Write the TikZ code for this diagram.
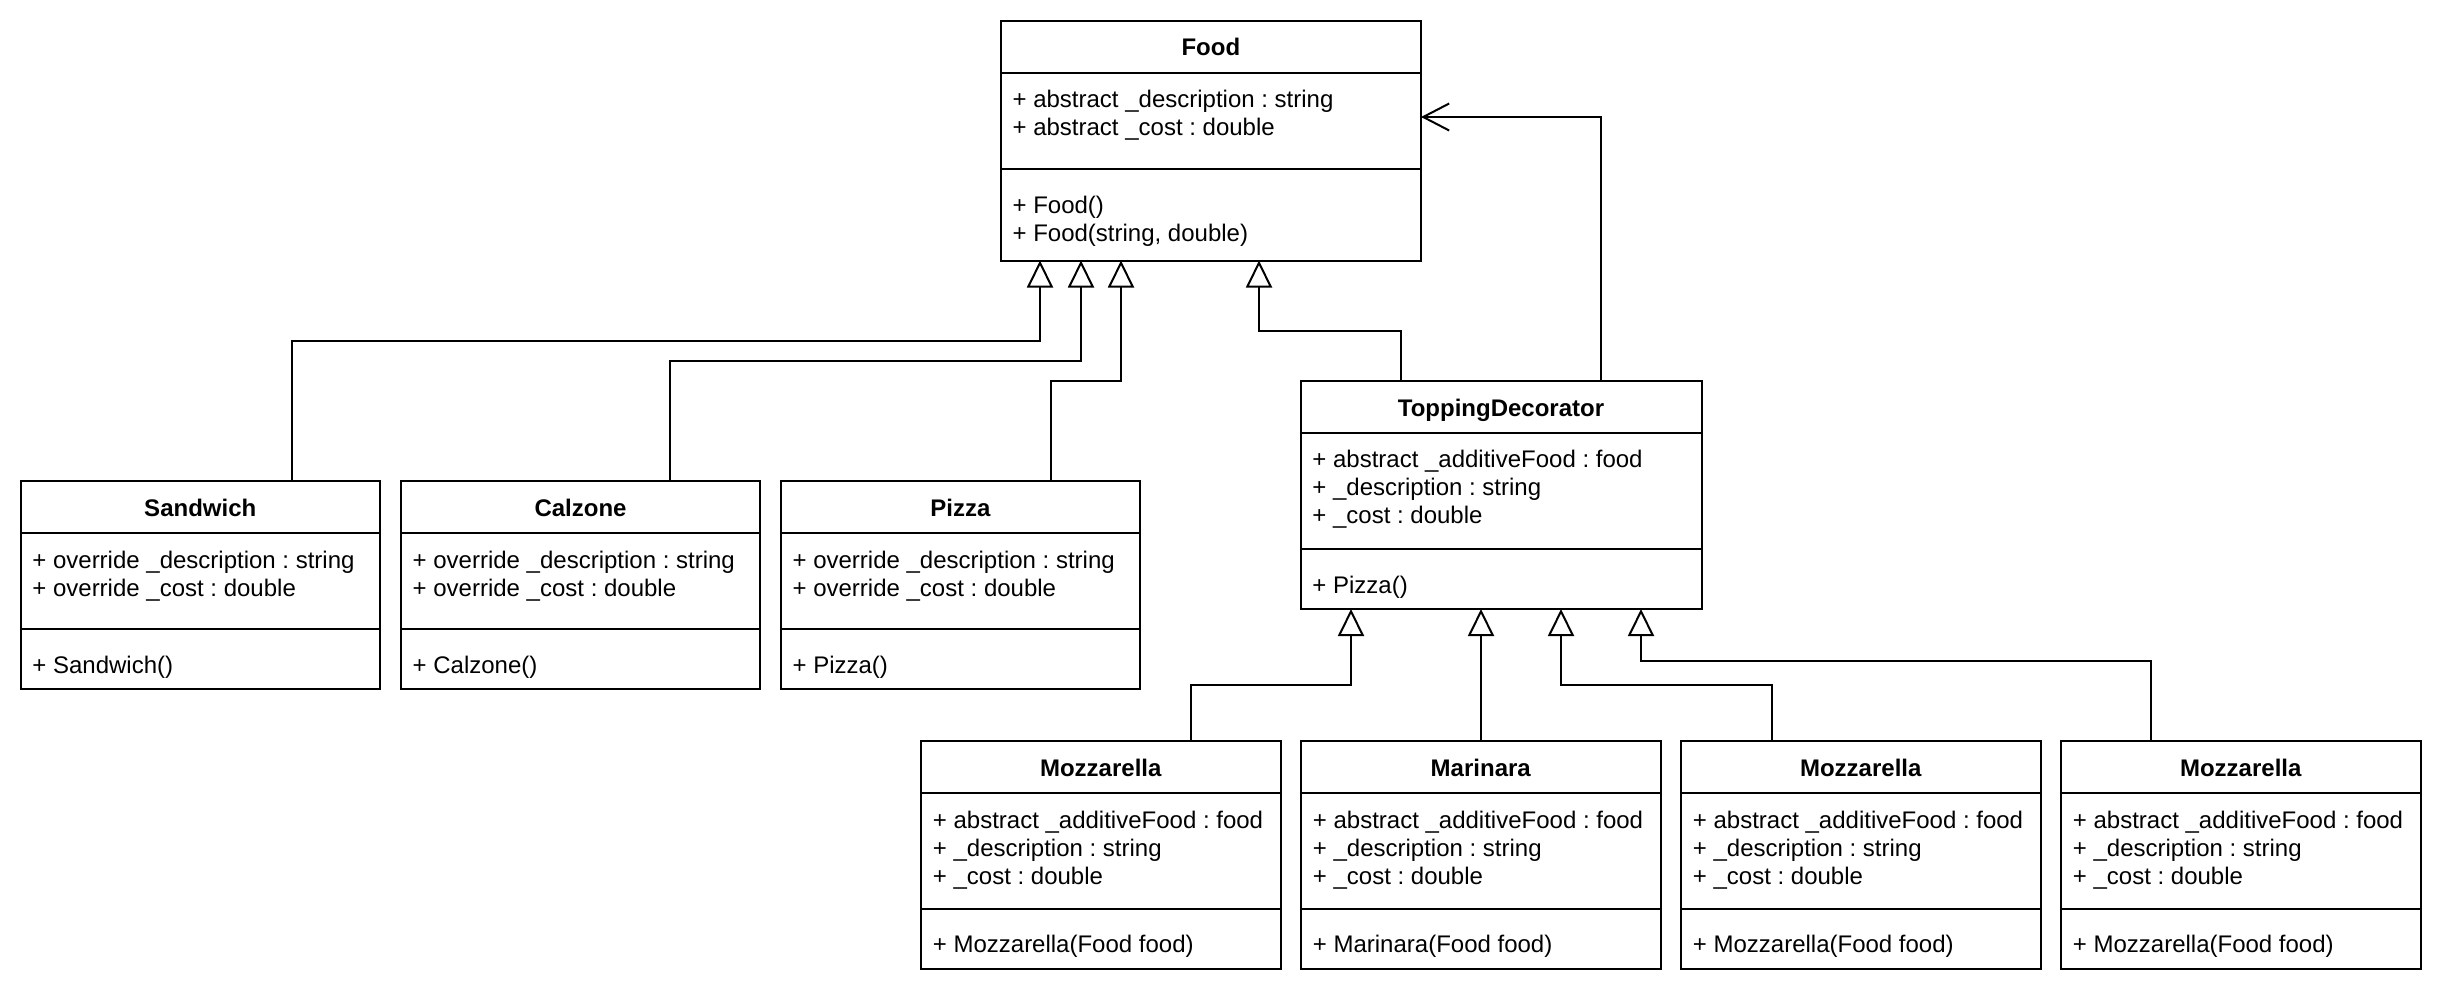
\documentclass[tikz,border=0pt]{standalone}
\usepackage{fontspec}
\setmainfont{Liberation Sans}
\usetikzlibrary{arrows.meta,calc}
\frenchspacing
\newcommand{\umlcls}[6]{% name, x, y, width, attr height, method height
  \node[clsbox, minimum width={#4*0.5pt}, minimum height={(51.8+#5+#6)*0.5pt}] (#1) at (#2,#3) {};
  \draw[sepline] ($(#1.north west)+(0,51.8)$) -- ($(#1.north east)+(0,51.8)$);
  \draw[sepline] ($(#1.north west)+(0,51.8+#5)$) -- ($(#1.north east)+(0,51.8+#5)$);
}
\begin{document}
\frenchspacing
\begin{tikzpicture}[x=0.5pt,y=-0.5pt,
  clsbox/.style={draw, line width=1pt, rectangle, anchor=north west, inner sep=0pt, outer sep=0pt, fill=white},
  sepline/.style={line width=1pt},
  txt/.style={anchor=base west, inner sep=0pt, font=\fontsize{12}{14}\selectfont\frenchspacing},
  ttl/.style={anchor=base, inner sep=0pt, font=\fontsize{12}{14}\selectfont\bfseries},
  inh/.style={line width=1pt, -{Triangle[open, length=13.5pt, width=13pt, fill=white]}},
  assoc/.style={line width=1pt, -{Straight Barb[length=13pt, width=13.5pt]}}]
\useasboundingbox[fill=white] (0,0) rectangle (2442,996);

% ---------- class boxes ----------
\umlcls{food}{1000.7}{20.7}{420.3}{96.5}{91.5}
\umlcls{sandwich}{20.5}{481}{359.5}{96.2}{60}
\umlcls{calzone}{400.8}{481}{359.5}{96.2}{60}
\umlcls{pizza}{780.7}{481}{359.5}{96.2}{60}
\umlcls{td}{1300.5}{380.7}{401}{116.5}{60}
\umlcls{mozA}{921}{741}{359.5}{116.2}{60}
\umlcls{mari}{1301}{741}{359.5}{116.2}{60}
\umlcls{mozB}{1681}{741}{359.5}{116.2}{60}
\umlcls{mozC}{2061}{741}{359.5}{116.2}{60}

% ---------- Food ----------
\node[ttl] (foodT) at ($(food.north)+(0,35)$) {Food};
\node[txt] (foodA1) at ($(food.north west)+(11.5,87.1)$) {+ abstract \_description : string};
\node[txt] (foodA2) at ($(food.north west)+(11.5,115.1)$) {+ abstract \_cost : double};
\node[txt] (foodM1) at ($(food.north west)+(11.5,192.3)$) {+ Food()};
\node[txt] (foodM2) at ($(food.north west)+(11.5,220.3)$) {+ Food(string, double)};

% ---------- Sandwich / Calzone / Pizza ----------
\node[ttl] (sandwichT) at ($(sandwich.north)+(0,35)$) {Sandwich};
\node[txt] (sandwichA1) at ($(sandwich.north west)+(11.5,87.1)$) {+ override \_description : string};
\node[txt] (sandwichA2) at ($(sandwich.north west)+(11.5,115.1)$) {+ override \_cost : double};
\node[txt] (sandwichM1) at ($(sandwich.north west)+(11.5,192)$) {+ Sandwich()};

\node[ttl] (calzoneT) at ($(calzone.north)+(0,35)$) {Calzone};
\node[txt] (calzoneA1) at ($(calzone.north west)+(11.5,87.1)$) {+ override \_description : string};
\node[txt] (calzoneA2) at ($(calzone.north west)+(11.5,115.1)$) {+ override \_cost : double};
\node[txt] (calzoneM1) at ($(calzone.north west)+(11.5,192)$) {+ Calzone()};

\node[ttl] (pizzaT) at ($(pizza.north)+(0,35)$) {Pizza};
\node[txt] (pizzaA1) at ($(pizza.north west)+(11.5,87.1)$) {+ override \_description : string};
\node[txt] (pizzaA2) at ($(pizza.north west)+(11.5,115.1)$) {+ override \_cost : double};
\node[txt] (pizzaM1) at ($(pizza.north west)+(11.5,192)$) {+ Pizza()};

% ---------- ToppingDecorator ----------
\node[ttl] (tdT) at ($(td.north)+(0,35.5)$) {ToppingDecorator};
\node[txt] (tdA1) at ($(td.north west)+(11.5,87.1)$) {+ abstract \_additiveFood : food};
\node[txt] (tdA2) at ($(td.north west)+(11.5,115.1)$) {+ \_description : string};
\node[txt] (tdA3) at ($(td.north west)+(11.5,143.1)$) {+ \_cost : double};
\node[txt] (tdM1) at ($(td.north west)+(11.5,213)$) {+ Pizza()};

% ---------- toppings ----------
\node[ttl] (mozAT) at ($(mozA.north)+(0,35.4)$) {Mozzarella};
\node[txt] (mozAA1) at ($(mozA.north west)+(11.5,87.1)$) {+ abstract \_additiveFood : food};
\node[txt] (mozAA2) at ($(mozA.north west)+(11.5,115.1)$) {+ \_description : string};
\node[txt] (mozAA3) at ($(mozA.north west)+(11.5,143.1)$) {+ \_cost : double};
\node[txt] (mozAM1) at ($(mozA.north west)+(11.5,211.5)$) {+ Mozzarella(Food food)};

\node[ttl] (mariT) at ($(mari.north)+(0,35.4)$) {Marinara};
\node[txt] (mariA1) at ($(mari.north west)+(11.5,87.1)$) {+ abstract \_additiveFood : food};
\node[txt] (mariA2) at ($(mari.north west)+(11.5,115.1)$) {+ \_description : string};
\node[txt] (mariA3) at ($(mari.north west)+(11.5,143.1)$) {+ \_cost : double};
\node[txt] (mariM1) at ($(mari.north west)+(11.5,211.5)$) {+ Marinara(Food food)};

\node[ttl] (mozBT) at ($(mozB.north)+(0,35.4)$) {Mozzarella};
\node[txt] (mozBA1) at ($(mozB.north west)+(11.5,87.1)$) {+ abstract \_additiveFood : food};
\node[txt] (mozBA2) at ($(mozB.north west)+(11.5,115.1)$) {+ \_description : string};
\node[txt] (mozBA3) at ($(mozB.north west)+(11.5,143.1)$) {+ \_cost : double};
\node[txt] (mozBM1) at ($(mozB.north west)+(11.5,211.5)$) {+ Mozzarella(Food food)};

\node[ttl] (mozCT) at ($(mozC.north)+(0,35.4)$) {Mozzarella};
\node[txt] (mozCA1) at ($(mozC.north west)+(11.5,87.1)$) {+ abstract \_additiveFood : food};
\node[txt] (mozCA2) at ($(mozC.north west)+(11.5,115.1)$) {+ \_description : string};
\node[txt] (mozCA3) at ($(mozC.north west)+(11.5,143.1)$) {+ \_cost : double};
\node[txt] (mozCM1) at ($(mozC.north west)+(11.5,211.5)$) {+ Mozzarella(Food food)};

% ---------- connection points ----------
\coordinate (fA) at ($(food.south west)+(39.3,0)$);
\coordinate (fB) at ($(food.south west)+(80.3,0)$);
\coordinate (fC) at ($(food.south west)+(120.3,0)$);
\coordinate (fD) at ($(food.south west)+(258.3,0)$);
\coordinate (fR) at ($(food.north east)+(0,96.3)$);
\coordinate (sA) at ($(sandwich.north west)+(271.5,0)$);
\coordinate (cA) at ($(calzone.north west)+(269.2,0)$);
\coordinate (pA) at ($(pizza.north west)+(270.3,0)$);
\coordinate (tA) at ($(td.north west)+(100.5,0)$);
\coordinate (tB) at ($(td.north west)+(300.5,0)$);
\coordinate (tbA) at ($(td.south west)+(50.5,0)$);
\coordinate (tbB) at ($(td.south west)+(180.5,0)$);
\coordinate (tbC) at ($(td.south west)+(260.5,0)$);
\coordinate (tbD) at ($(td.south west)+(340.5,0)$);
\coordinate (m1A) at ($(mozA.north west)+(270,0)$);
\coordinate (m2A) at ($(mari.north west)+(180,0)$);
\coordinate (m3A) at ($(mozB.north west)+(91,0)$);
\coordinate (m4A) at ($(mozC.north west)+(90,0)$);

% ---------- connectors ----------
\draw[inh] (sA) |- ($(fA)+(0,80.5)$) -- (fA);
\draw[inh] (cA) |- ($(fB)+(0,100.5)$) -- (fB);
\draw[inh] (pA) |- ($(fC)+(0,120.5)$) -- (fC);
\draw[inh] (tA) |- ($(fD)+(0,70.5)$) -- (fD);
\draw[assoc] (tB) |- (fR);
\draw[inh] (m1A) |- ($(tbA)+(0,76)$) -- (tbA);
\draw[inh] (m2A) -- (tbB);
\draw[inh] (m3A) |- ($(tbC)+(0,76)$) -- (tbC);
\draw[inh] (m4A) |- ($(tbD)+(0,52)$) -- (tbD);
\end{tikzpicture}
\end{document}
